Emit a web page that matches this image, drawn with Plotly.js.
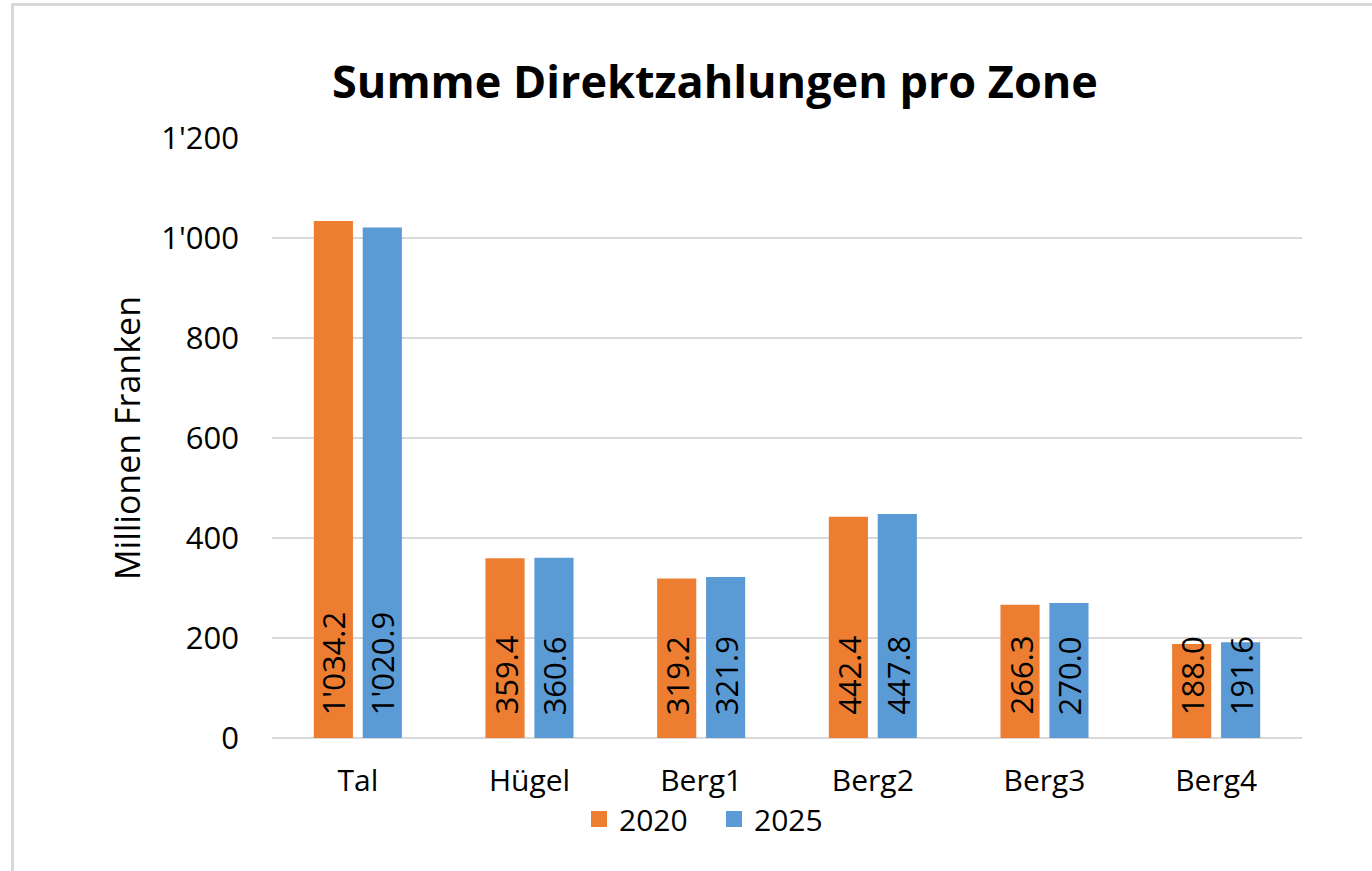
<!DOCTYPE html>
<html>
<head>
<meta charset="utf-8">
<script src="https://cdn.plot.ly/plotly-3.0.1.min.js"></script>
<style>
  html, body { margin: 0; padding: 0; background: #ffffff; overflow: hidden; }
  #frame { position: absolute; left: 11px; top: 3px; width: 2000px; height: 2000px;
           border: 3px solid #D9D9D9; box-sizing: border-box; }
  #chart { position: absolute; left: 0; top: 0; width: 1372px; height: 871px; }
</style>
</head>
<body>
<div id="frame"></div>
<div id="chart"></div>
<script>
const categories = ["Tal", "Hügel", "Berg1", "Berg2", "Berg3", "Berg4"];
const seriesNames = ["2020", "2025"];
const values2020 = [1034.2, 359.4, 319.2, 442.4, 266.3, 188.0];
const values2025 = [1020.9, 360.6, 321.9, 447.8, 270.0, 191.6];
const seriesColors = ["#ED7D31", "#5B9BD5"];
const yTicks = [0, 200, 400, 600, 800, 1000, 1200];

const FONT = "Open Sans, Noto Sans, sans-serif";
const bargap = 0.43;
const plotLeft = 272, plotRight = 1302;
const catWidthPx = (plotRight - plotLeft) / categories.length;
const slotPx = catWidthPx * (1 - bargap) / 2;

const allValues = [values2020, values2025];
const traces = allValues.map((vals, k) => ({
  type: "bar",
  name: seriesNames[k],
  x: categories,
  y: vals,
  marker: { color: seriesColors[k], line: { width: 0 } },
  textposition: "none",
  showlegend: false,
  hoverinfo: "x+y+name"
}));
// legend-only entries with larger square symbols
seriesNames.forEach((nm, k) => {
  traces.push({
    type: "scatter", mode: "markers", name: nm,
    x: [null], y: [null],
    marker: { symbol: "square", size: 19, color: seriesColors[k] },
    showlegend: true, hoverinfo: "skip"
  });
});

const fmt = v => {
  const s = v.toFixed(1);
  const [ip, dp] = s.split(".");
  return ip.replace(/\B(?=(\d{3})+(?!\d))/g, "'") + "." + dp;
};

const annotations = [];
allValues.forEach((vals, k) => {
  vals.forEach((v, i) => {
    annotations.push({
      x: categories[i], y: 0, xref: "x", yref: "y",
      text: fmt(v), showarrow: false, textangle: -90,
      xanchor: "center", yanchor: "bottom",
      xshift: (k === 0 ? -1 : 1) * slotPx / 2,
      yshift: 21,
      font: { family: FONT, size: 31, color: "#000000" }
    });
  });
});

const layout = {
  width: 1372, height: 871,
  margin: { l: plotLeft, r: 1372 - plotRight, t: 138, b: 133 },
  paper_bgcolor: "rgba(0,0,0,0)",
  plot_bgcolor: "rgba(0,0,0,0)",
  separators: ".'",
  barmode: "group",
  bargap: bargap,
  bargroupgap: 0.2,
  font: { family: FONT, color: "#000000" },
  title: {
    text: "<b>Summe Direktzahlungen pro Zone</b>",
    font: { family: FONT, size: 45, color: "#000000" },
    xref: "container", x: 715 / 1372, xanchor: "center",
    yref: "container", y: 1 - 82 / 871, yanchor: "middle"
  },
  xaxis: {
    type: "category",
    tickfont: { family: FONT, size: 30, color: "#000000" },
    ticks: "", showline: false, showgrid: false,
    ticklabelstandoff: 22
  },
  yaxis: {
    range: [0, 1200],
    tickvals: yTicks,
    tickformat: ",",
    tickfont: { family: FONT, size: 31, color: "#000000" },
    ticks: "",
    showline: false,
    gridcolor: "#D9D9D9", gridwidth: 2,
    zeroline: true, zerolinecolor: "#D9D9D9", zerolinewidth: 2,
    ticklabelstandoff: 32,
    title: {
      text: "Millionen Franken",
      font: { family: FONT, size: 34, color: "#000000" },
      standoff: 10
    }
  },
  showlegend: true,
  legend: {
    orientation: "h",
    x: (714 - plotLeft) / (plotRight - plotLeft), xanchor: "center",
    y: -(819 - 738) / 600, yanchor: "middle",
    font: { family: FONT, size: 30, color: "#000000" },
    bgcolor: "rgba(0,0,0,0)",
    itemsizing: "trace",
    entrywidth: 90
  },
  annotations: annotations
};

Plotly.newPlot("chart", traces, layout, { displayModeBar: false, staticPlot: true });
</script>
</body>
</html>
